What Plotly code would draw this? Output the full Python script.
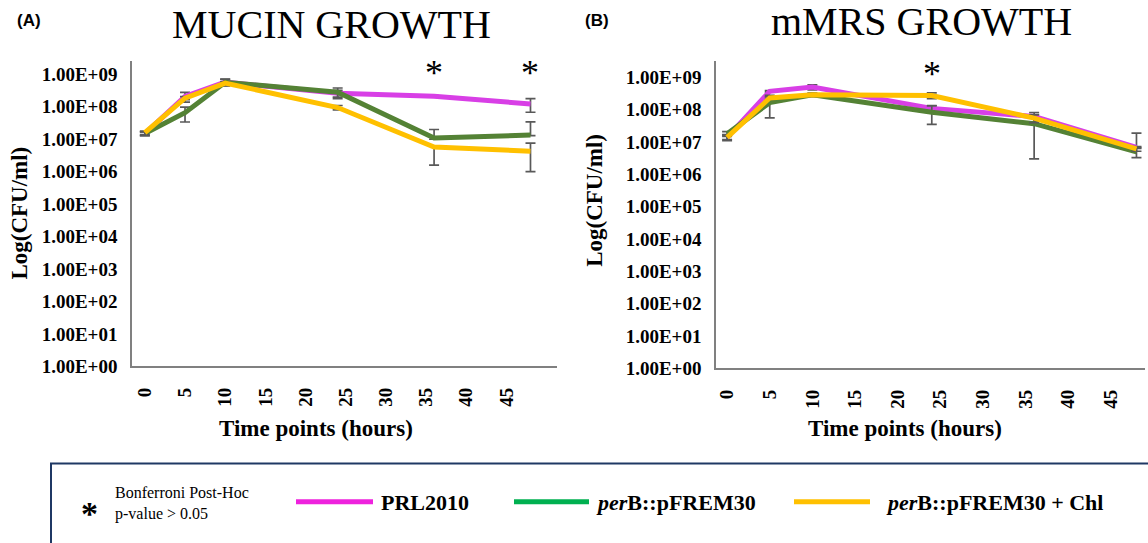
import plotly.graph_objects as go
import math

# ---------------- data ----------------
hours = [0, 5, 10, 24, 36, 48]
x_ticks = [0, 5, 10, 15, 20, 25, 30, 35, 40, 45]
y_tickvals = [1e0, 1e1, 1e2, 1e3, 1e4, 1e5, 1e6, 1e7, 1e8, 1e9]
y_ticktext = ["1.00E+00", "1.00E+01", "1.00E+02", "1.00E+03", "1.00E+04",
              "1.00E+05", "1.00E+06", "1.00E+07", "1.00E+08", "1.00E+09"]

series_names = ["PRL2010", "perB::pFREM30", "perB::pFREM30 + Chl"]

# Mucin growth (CFU/ml)
mucin_prl = [1.5e7, 2.1e8, 5.8e8, 2.6e8, 2.1e8, 1.23e8]
mucin_perb = [1.5e7, 6.6e7, 5.7e8, 2.8e8, 1.1e7, 1.35e7]
mucin_chl = [1.6e7, 1.85e8, 5.4e8, 9.5e7, 5.8e6, 4.3e6]
mucin_prl_err_up = [2e6, 7e7, 1.3e8, 6e7, 1e7, 5.5e7]
mucin_prl_err_dn = [2e6, 7e7, 1.3e8, 6e7, 1e7, 5.5e7]
mucin_perb_err_up = [2e6, 3.2e7, 1.3e8, 1e8, 9e6, 2.1e7]
mucin_perb_err_dn = [2e6, 3.2e7, 1.3e8, 1e8, 1e6, 5e5]
mucin_chl_err_up = [2e6, 2e7, 5e7, 1.5e7, 5e5, 3.3e6]
mucin_chl_err_dn = [2e6, 2e7, 5e7, 1.5e7, 4.2e6, 3.3e6]

# mMRS growth (CFU/ml)
mmrs_prl = [1.4e7, 3.7e8, 5.0e8, 1.1e8, 6.2e7, 6.9e6]
mmrs_perb = [1.8e7, 1.66e8, 2.9e8, 8.3e7, 3.7e7, 5.0e6]
mmrs_chl = [1.4e7, 2.3e8, 2.9e8, 2.75e8, 5.5e7, 6.2e6]
mmrs_prl_err_up = [3e6, 2e7, 9e7, 2.5e7, 2e7, 1.2e7]
mmrs_prl_err_dn = [3e6, 2e7, 9e7, 2.5e7, 2e7, 5e5]
mmrs_perb_err_up = [3e6, 1.1e8, 3e7, 4.8e7, 3.4e7, 1.7e6]
mmrs_perb_err_dn = [3e6, 1.1e8, 3e7, 4.8e7, 3.4e7, 1.7e6]
mmrs_chl_err_up = [2e6, 2e7, 3e7, 5.5e7, 1.5e7, 1e6]
mmrs_chl_err_dn = [2e6, 2e7, 3e7, 5.5e7, 1.5e7, 1e6]

mucin_sig_hours = [36, 48]
mmrs_sig_hours = [24]

# ---------------- styling ----------------
line_colors = ["#d83fe6", "#548235", "#ffc000"]
legend_colors = ["#ee22dd", "#00b050", "#ffc000"]
err_color = "#595959"
serif = "Liberation Serif"
W, H = 1148, 543

fig = go.Figure()

panels = [
    ("x", "y", [mucin_prl, mucin_perb, mucin_chl],
     [mucin_prl_err_up, mucin_perb_err_up, mucin_chl_err_up],
     [mucin_prl_err_dn, mucin_perb_err_dn, mucin_chl_err_dn]),
    ("x2", "y2", [mmrs_prl, mmrs_perb, mmrs_chl],
     [mmrs_prl_err_up, mmrs_perb_err_up, mmrs_chl_err_up],
     [mmrs_prl_err_dn, mmrs_perb_err_dn, mmrs_chl_err_dn]),
]
for xa, ya, vals, ups, dns in panels:
    for i, name in enumerate(series_names):
        fig.add_trace(go.Scatter(
            x=hours, y=vals[i], mode="lines", name=name, xaxis=xa, yaxis=ya,
            line=dict(color=line_colors[i], width=5),
            error_y=dict(type="data", symmetric=False, array=ups[i],
                         arrayminus=dns[i], color=err_color, thickness=1.7, width=5),
            showlegend=False,
        ))

axis_common = dict(showgrid=False, zeroline=False, showline=True,
                   linecolor="#808080", linewidth=1.6, ticks="",
                   tickfont=dict(family=serif, size=19, color="#000", weight="bold"))

def xaxis(domain, rng, anchor):
    return dict(domain=domain, range=rng, anchor=anchor, tickvals=x_ticks,
                tickangle=-90, ticklabelstandoff=12, **axis_common)

def yaxis(domain, rng, anchor):
    return dict(domain=domain, range=rng, anchor=anchor, type="log",
                tickvals=y_tickvals, ticktext=y_ticktext,
                ticklabelstandoff=9, **axis_common)

fig.update_layout(
    width=W, height=H, margin=dict(l=0, r=0, t=0, b=0),
    paper_bgcolor="white", plot_bgcolor="white", showlegend=False,
    xaxis=xaxis([132 / W, 557 / W], [-1.6, 51.3], "y"),
    yaxis=yaxis([1 - 374 / H, 1 - 62 / H], [0, 9.42], "x"),
    xaxis2=xaxis([716 / W, 1145 / W], [-1.3, 49.0], "y2"),
    yaxis2=yaxis([1 - 376 / H, 1 - 62 / H], [0, 9.515], "x2"),
)

ann = []
def ptext(x, y, text, size, family=serif, color="#000", xanchor="center", textangle=0, weight="normal"):
    ann.append(dict(x=x / W, y=1 - y / H, xref="paper", yref="paper", text=text,
                    showarrow=False, xanchor=xanchor, yanchor="middle", textangle=textangle,
                    font=dict(family=family, size=size, color=color, weight=weight)))

# titles & panel labels
ptext(331, 25, "MUCIN GROWTH", 40)
ptext(921, 22, "mMRS GROWTH", 40)
ptext(29, 21, "(A)", 17, family="Liberation Sans", weight="bold")
ptext(597, 21, "(B)", 17, family="Liberation Sans", weight="bold")
# axis titles
ptext(20, 218, "Log(CFU/ml)", 23, textangle=-90, weight="bold")
ptext(595, 205, "Log(CFU/ml)", 23, textangle=-90, weight="bold")
ptext(316, 437, "Time points (hours)", 23, weight="bold")
ptext(905, 437, "Time points (hours)", 23, weight="bold")

# significance asterisks
for h in mucin_sig_hours:
    ann.append(dict(x=h, y=9.05, xref="x", yref="y", text="*", showarrow=False,
                    yanchor="middle", font=dict(family=serif, size=36, color="#000")))
for h in mmrs_sig_hours:
    ann.append(dict(x=h, y=9.09, xref="x2", yref="y2", text="*", showarrow=False,
                    yanchor="middle", font=dict(family=serif, size=36, color="#000")))

# legend box content
ptext(89, 524, "<b>*</b>", 34, xanchor="center")
ann.append(dict(x=113 / W, y=1 - 503 / H, xref="paper", yref="paper",
                text="Bonferroni Post-Hoc", showarrow=False, xanchor="left", yanchor="middle",
                font=dict(family=serif, size=16, color="#000")))
ann.append(dict(x=113 / W, y=1 - 525 / H, xref="paper", yref="paper",
                text="p-value > 0.05", showarrow=False, xanchor="left", yanchor="middle",
                font=dict(family=serif, size=16, color="#000")))
legend_labels = ["<b>PRL2010</b>", "<b><i>per</i>B::pFREM30</b>", "<b><i>per</i>B::pFREM30 + Chl</b>"]
legend_line_x = [(296, 373), (514, 589), (794, 870)]
legend_text_x = [379, 594, 884]
shapes = []
for i in range(3):
    x0, x1 = legend_line_x[i]
    shapes.append(dict(type="line", xref="paper", yref="paper", x0=x0 / W, x1=x1 / W,
                       y0=1 - 512 / H, y1=1 - 512 / H,
                       line=dict(color=legend_colors[i], width=5)))
    ann.append(dict(x=legend_text_x[i] / W, y=1 - 513 / H, xref="paper", yref="paper",
                    text=legend_labels[i], showarrow=False, xanchor="left", yanchor="middle",
                    font=dict(family=serif, size=22, color="#000")))
shapes.append(dict(type="rect", xref="paper", yref="paper", x0=51 / W, x1=1.05,
                   y0=-0.1, y1=1 - 473 / H, line=dict(color="#1f3864", width=2),
                   fillcolor="rgba(0,0,0,0)"))

fig.update_layout(annotations=ann, shapes=shapes)
fig.write_html("out.html")
